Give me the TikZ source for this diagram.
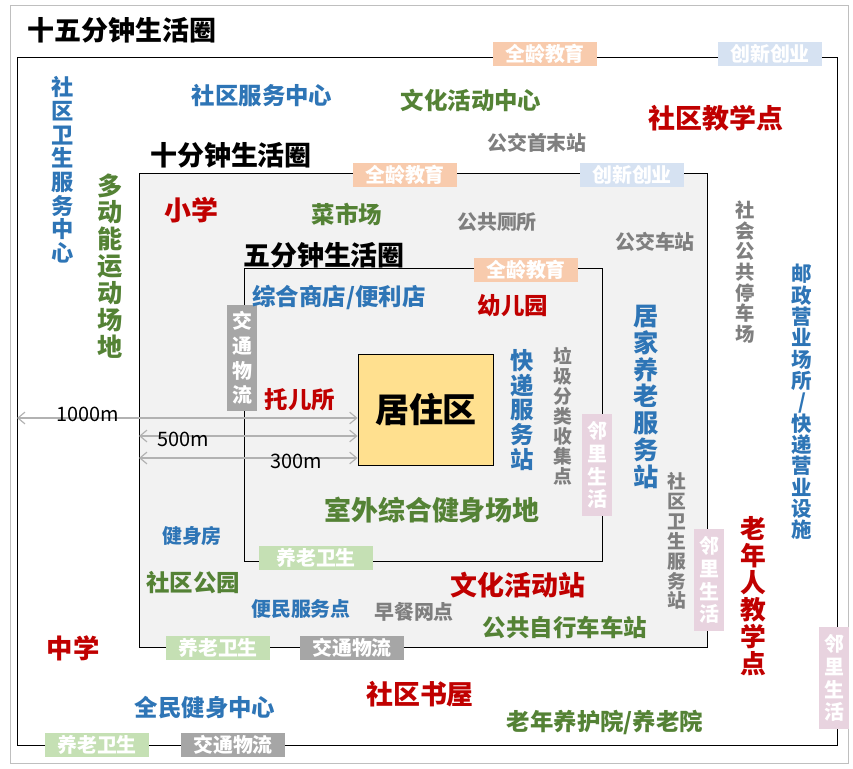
\documentclass[tikz,border=0pt]{standalone}
\usepackage{fontspec}
\usetikzlibrary{arrows.meta}
\setmainfont{Noto Sans CJK SC}
\newcommand{\sz}[2]{\fontsize{#1pt}{#2pt}\selectfont}
\definecolor{cblue}{HTML}{2E75B6}
\definecolor{cgreen}{HTML}{548235}
\definecolor{cred}{HTML}{C00000}
\definecolor{cgray}{HTML}{7F7F7F}
\definecolor{tpeach}{HTML}{F8CBAD}
\definecolor{tblue}{HTML}{D6E2F2}
\definecolor{tgreen}{HTML}{C5E0B4}
\definecolor{tgray}{HTML}{A6A6A6}
\definecolor{tpink}{HTML}{E8D3DF}
\definecolor{ringfill}{HTML}{F2F2F2}
\definecolor{resfill}{HTML}{FFE08F}
\begin{document}
\begin{tikzpicture}[x=0.03cm,y=-0.03cm,
        lbl/.style={inner sep=0pt, font=\bfseries\sz{20}{23}},
        vlbl/.style={inner sep=0pt, align=center},
        title/.style={inner sep=0pt, font=\bfseries\sz{23}{26}, text=black},
        tag/.style={fill=#1, text=white, inner sep=0pt, minimum height=20pt, minimum width=88pt, font=\bfseries\sz{17}{20}},
        vtag/.style={fill=#1, text=white, inner sep=0pt, minimum width=25pt, minimum height=87pt, align=center, font=\bfseries\sz{17}{19.5}},
        ring/.style={draw=black, line width=0.8pt},
        dist/.style={gray!60, line width=1pt, {Straight Barb[length=6pt,width=10pt]}-{Straight Barb[length=6pt,width=10pt]}},
    ]
        \useasboundingbox (0,0) rectangle (853,769);
        \draw[gray!50, line width=0.8pt] (10,5) rectangle (848,763);

        %Rings
        \draw[ring] (17,57) rectangle (837,745);
        \draw[ring, fill=ringfill] (139,173) rectangle (707,647);
        \draw[ring, fill=ringfill] (244,268) rectangle (602,561);
        \node[draw=black, line width=0.8pt, fill=resfill, minimum width=116pt, minimum height=94pt, inner sep=0pt, font=\bfseries\sz{29}{32}] (res) at (426,410) {居住区};

        \node[title] (t15) at (122,30) {十五分钟生活圈};
        \node[title] (t10) at (231,155) {十分钟生活圈};
        \node[title] (t5) at (324,255) {五分钟生活圈};

        %Distances
        \coordinate (d1000) at (17,418);
        \coordinate (d500) at (139,436);
        \coordinate (d300) at (139,458);
        \draw[dist] (d1000) -- (res.west |- d1000);
        \draw[dist] (d500) -- (res.west |- d500);
        \draw[dist] (d300) -- (res.west |- d300);
        \node[inner sep=0pt, font=\sz{17}{19}] (l1000) at (88,414) {1000m};
        \node[inner sep=0pt, font=\sz{17}{19}] (l500) at (183,439) {500m};
        \node[inner sep=0pt, font=\sz{17}{19}] (l300) at (296,461) {300m};

        %Tags
        \node[tag=tpeach] (edu1) at (545,54) {全龄教育};
        \node[tag=tblue] (inn1) at (770,54) {创新创业};
        \node[tag=tpeach] (edu2) at (405,175) {全龄教育};
        \node[tag=tblue] (inn2) at (632,175) {创新创业};
        \node[tag=tpeach] (edu3) at (526,270) {全龄教育};
        \node[tag=tgreen, minimum width=97pt] (care1) at (316,558) {养老卫生};
        \node[tag=tgreen] (care2) at (218,648) {养老卫生};
        \node[tag=tgray] (traf2) at (352,648) {交通物流};
        \node[tag=tgreen] (care3) at (97,745) {养老卫生};
        \node[tag=tgray] (traf3) at (233,745) {交通物流};
        \node[vtag=tgray, minimum height=90pt, font=\bfseries\sz{17}{21}] (traf1) at (242,358) {交\\通\\物\\流};
        \node[vtag=tpink] (nb1) at (597,465) {邻\\里\\生\\活};
        \node[vtag=tpink] (nb2) at (709,580) {邻\\里\\生\\活};
        \node[vtag=tpink] (nb3) at (834,678) {邻\\里\\生\\活};

        %Labels, 15 minutes
        \node[lbl, text=cblue] (fwzx) at (262,96) {社区服务中心};
        \node[lbl, text=cgreen] (whzx) at (471,100) {文化活动中心};
        \node[lbl, text=cred, font=\bfseries\sz{23}{26}] (jxd) at (716,118) {社区教学点};
        \node[lbl, text=cgray, font=\bfseries\sz{17}{20}] (gjsm) at (537,143) {公交首末站};
        \node[lbl, text=cred, font=\bfseries\sz{22.5}{26}] (zx) at (73,648) {中学};
        \node[lbl, text=cblue] (jszx) at (205,708) {全民健身中心};
        \node[lbl, text=cred, font=\bfseries\sz{23}{26}] (sw) at (420,694) {社区书屋};
        \node[lbl, text=cgreen] (yhy) at (605,722) {老年养护院/养老院};
        \node[vlbl, text=cblue, font=\bfseries\sz{19}{20.2}] (wszx) at (63,170) {社\\区\\卫\\生\\服\\务\\中\\心};
        \node[vlbl, text=cgreen, font=\bfseries\sz{21.5}{23}] (ydcd) at (110,266) {多\\动\\能\\运\\动\\场\\地};
        \node[vlbl, text=cgray, font=\bfseries\sz{16.5}{17.6}] (tcc) at (745,272) {社\\会\\公\\共\\停\\车\\场};
        \node[vlbl, text=cblue, font=\bfseries\sz{17.5}{18.2}] (yz) at (802,402) {邮\\政\\营\\业\\场\\所\\/\\快\\递\\营\\业\\设\\施};
        \node[vlbl, text=cred, font=\bfseries\sz{22}{23}] (lnjx) at (753,596) {老\\年\\人\\教\\学\\点};

        %Labels, 10 minutes
        \node[lbl, text=cred, font=\bfseries\sz{23}{26}] (xx) at (191,210) {小学};
        \node[lbl, text=cgreen] (csc) at (347,214) {菜市场};
        \node[lbl, text=cgray, font=\bfseries\sz{17}{20}] (gc) at (497,222) {公共厕所};
        \node[lbl, text=cgray, font=\bfseries\sz{17}{20}] (gjz) at (655,242) {公交车站};
        \node[lbl, text=cblue, font=\bfseries\sz{17}{20}] (jsf) at (192,536) {健身房};
        \node[lbl, text=cgreen] (gy) at (193,583) {社区公园};
        \node[lbl, text=cred, font=\bfseries\sz{23}{26}] (whz) at (518,585) {文化活动站};
        \node[lbl, text=cblue, font=\bfseries\sz{17}{20}] (bmfw) at (301,609) {便民服务点};
        \node[lbl, text=cgray, font=\bfseries\sz{17}{20}] (zc) at (414,612) {早餐网点};
        \node[lbl, text=cgreen] (zxc) at (565,628) {公共自行车车站};
        \node[vlbl, text=cblue, font=\bfseries\sz{21.5}{23}] (jjyl) at (646,397) {居\\家\\养\\老\\服\\务\\站};
        \node[vlbl, text=cgray, font=\bfseries\sz{16}{17}] (wsz) at (677,541) {社\\区\\卫\\生\\服\\务\\站};

        %Labels, 5 minutes
        \node[lbl, text=cblue] (sd) at (339,297) {综合商店/便利店};
        \node[lbl, text=cred] (yey) at (513,306) {幼儿园};
        \node[lbl, text=cred] (tes) at (300,400) {托儿所};
        \node[lbl, text=cgreen, font=\bfseries\sz{23}{26}] (jscd) at (432,510) {室外综合健身场地};
        \node[vlbl, text=cblue, font=\bfseries\sz{20}{21}] (kd) at (522,410) {快\\递\\服\\务\\站};
        \node[vlbl, text=cgray, font=\bfseries\sz{16}{17}] (lj) at (563,416) {垃\\圾\\分\\类\\收\\集\\点};
    \end{tikzpicture}
\end{document}
